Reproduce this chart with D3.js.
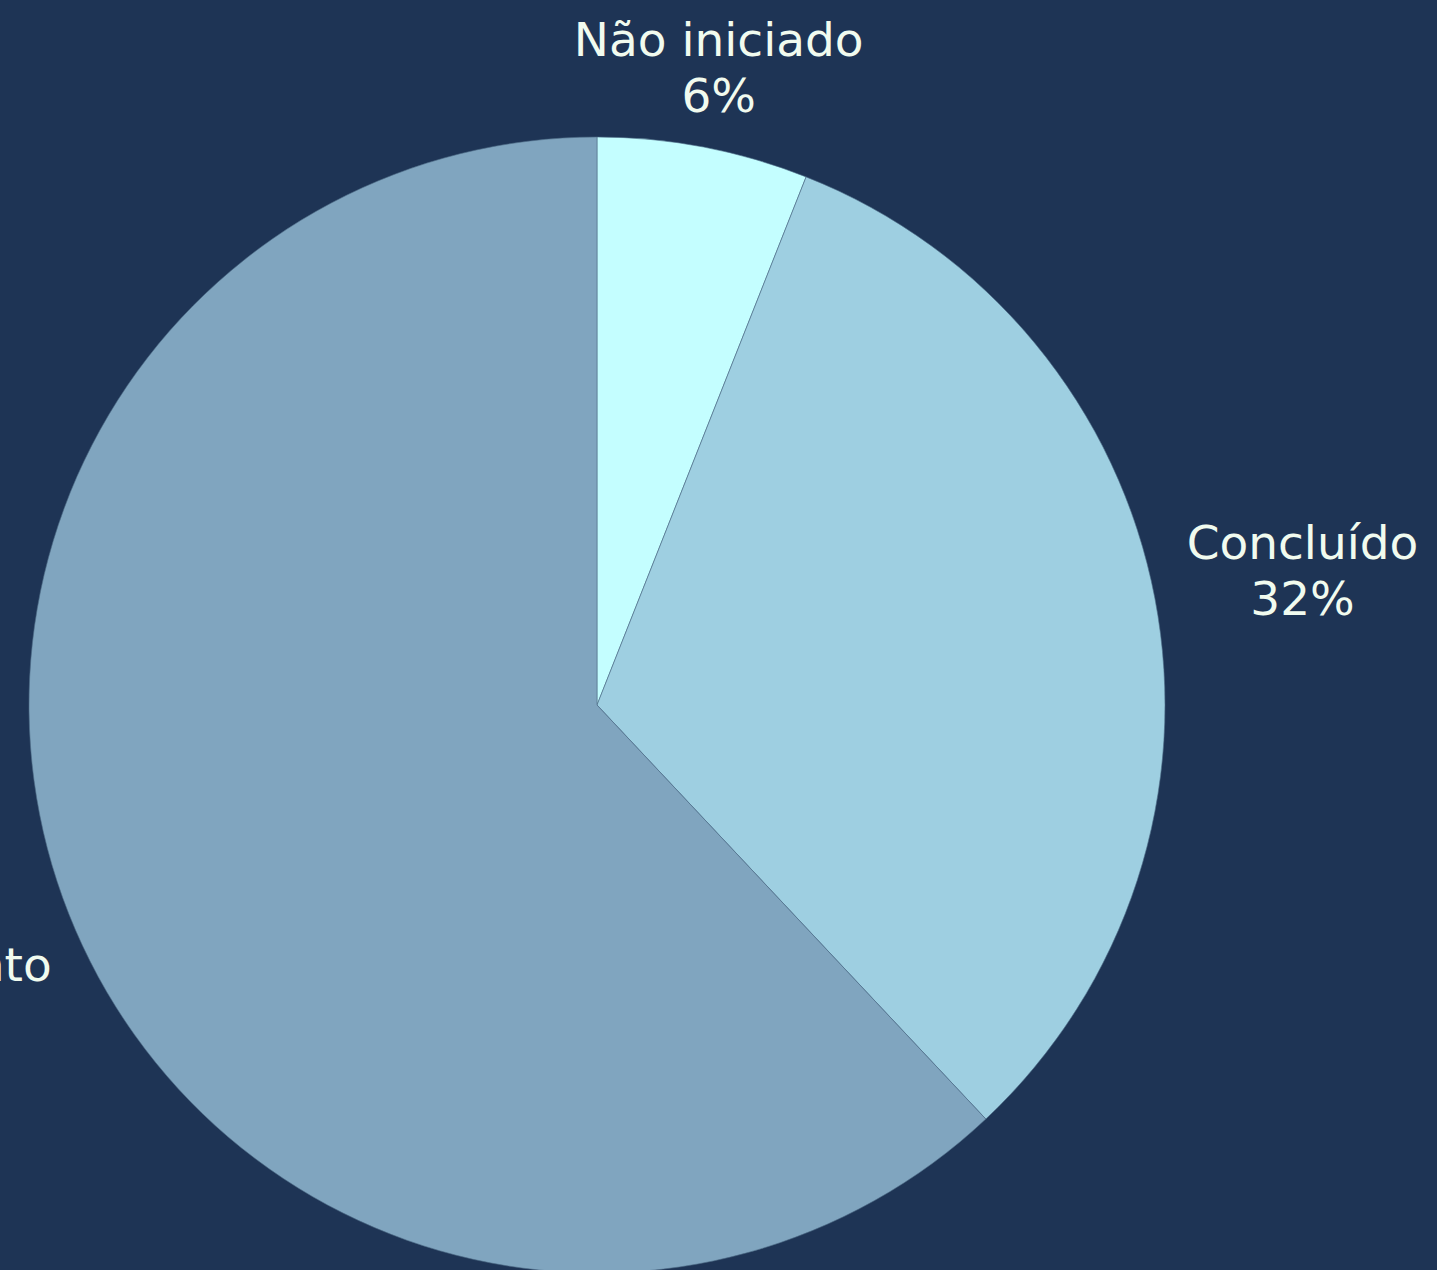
<!DOCTYPE html>
<html>
<head>
<meta charset="utf-8">
<script src="https://cdn.jsdelivr.net/npm/d3@7"></script>
<style>
  html, body { margin: 0; padding: 0; background: #1e3455; }
  svg { display: block; }
</style>
</head>
<body>
<svg id="chart" width="1437" height="1270"></svg>
<script>
// Project status shares
const categories = ["Não iniciado", "Concluído", "Em andamento"];
const shares = [6, 32, 62];
const sliceColors = ["#c4feff", "#9ecfe1", "#80a5bf"];

const width = 1437, height = 1270;
const cx = 597, cy = 705, radius = 568;
const fontSize = 47, lineGap = 56;
const capHeight = 34;          // approx. cap height at this font size
const labelPad = 28;           // gap between pie edge and label box
const topLimit = 22;           // labels never rise above this line

const svg = d3.select("#chart");
svg.append("rect").attr("width", width).attr("height", height).attr("fill", "#1e3455");

const g = svg.append("g").attr("transform", `translate(${cx},${cy})`);

const data = categories.map((c, i) => ({ name: c, value: shares[i], color: sliceColors[i] }));
const pie = d3.pie().sort(null).value(d => d.value);
const arc = d3.arc().innerRadius(0).outerRadius(radius);
const arcs = pie(data);

g.selectAll("path.slice")
  .data(arcs)
  .join("path")
  .attr("class", "slice")
  .attr("d", arc)
  .attr("fill", d => d.data.color)
  .attr("stroke", "#4d6b86")
  .attr("stroke-width", 0.6);

const total = d3.sum(shares);
const pct = d3.format(".0%");

// Each label is a two-line block pushed out along its slice's mid-angle
// until the block clears the pie edge by labelPad.
g.selectAll("text.label")
  .data(arcs)
  .join("text")
  .attr("class", "label")
  .attr("text-anchor", "middle")
  .attr("font-family", "'DejaVu Sans', sans-serif")
  .attr("font-size", fontSize)
  .attr("fill", "#f1fbef")
  .each(function (d) {
    const t = d3.select(this);
    const l1 = t.append("tspan").text(d.data.name);
    const l2 = t.append("tspan").text(pct(d.data.value / total));
    const w = Math.max(l1.node().getComputedTextLength(), l2.node().getComputedTextLength());
    const hw = w / 2;
    const hh = (capHeight + lineGap) / 2;

    const mid = (d.startAngle + d.endAngle) / 2;
    const s = Math.sin(mid), c = Math.cos(mid);
    let r = radius + labelPad + Math.abs(s) * hw + Math.abs(c) * hh;
    let ly = -c * r;
    if (cy + ly - hh < topLimit && c > 0) {
      ly = topLimit + hh - cy;
      r = -ly / c;
    }
    const lx = s * r;
    const b1 = ly - hh + capHeight;   // first baseline
    l1.attr("x", lx).attr("y", b1);
    l2.attr("x", lx).attr("y", b1 + lineGap);
  });
</script>
</body>
</html>
